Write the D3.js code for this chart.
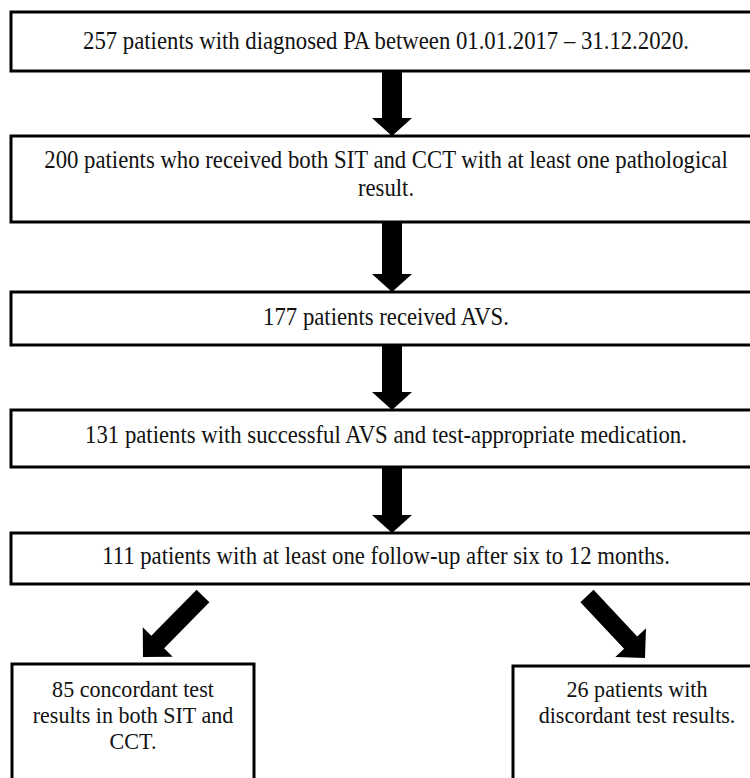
<!DOCTYPE html>
<style>
body { margin: 0; background: #fff; }
</style>
<svg width="750" height="778"></svg>
<script src="https://cdn.jsdelivr.net/npm/d3@7"></script>
<script>

// flow steps, top to bottom
var steps = [
  ["257 patients with diagnosed PA between 01.01.2017 \u2013 31.12.2020."],
  ["200 patients who received both SIT and CCT with at least one pathological", "result."],
  ["177 patients received AVS."],
  ["131 patients with successful AVS and test-appropriate medication."],
  ["111 patients with at least one follow-up after six to 12 months."]
];

// split at the end
var outcomes = [
  ["85 concordant test", "results in both SIT and", "CCT."],
  ["26 patients with", "discordant test results."]
];

var svg = d3.select("svg"),
    serif = "'Liberation Serif'";

// box geometry: top, bottom, first baseline
var rows = [[12, 71, 49], [136, 222, 168], [292, 345, 325], [410, 467, 443], [533, 584, 564]],
    boxLeft = 11, boxRight = 760, midX = 386, arrowX = 392,
    lineH = 28;

var g = svg.append("g");

var step = g.selectAll("g.step")
  .data(steps)
  .enter().append("g")
    .attr("class", "step");

step.append("rect")
    .attr("x", boxLeft)
    .attr("y", function(d, i) { return rows[i][0]; })
    .attr("width", boxRight - boxLeft)
    .attr("height", function(d, i) { return rows[i][1] - rows[i][0]; })
    .attr("fill", "none")
    .attr("stroke", "#000")
    .attr("stroke-width", 3);

step.each(function(lines, i) {
  d3.select(this).selectAll("text")
    .data(lines)
    .enter().append("text")
      .attr("transform", function(d, j) {
        return "translate(" + midX + "," + (rows[i][2] + j * lineH) + ") scale(0.875,1)";
      })
      .attr("text-anchor", "middle")
      .style("font-family", serif)
      .style("font-size", "26px")
      .attr("fill", "#111")
      .text(function(d) { return d; });
});

// vertical arrows between the steps
function downArrow(y0, y1) {
  var sw = 10, hw = 20, hh = 18;
  return "M" + (arrowX - sw) + "," + y0 +
    "L" + (arrowX + sw) + "," + y0 +
    "L" + (arrowX + sw) + "," + (y1 - hh) +
    "L" + (arrowX + hw) + "," + (y1 - hh) +
    "L" + arrowX + "," + y1 +
    "L" + (arrowX - hw) + "," + (y1 - hh) +
    "L" + (arrowX - sw) + "," + (y1 - hh) + "Z";
}

g.selectAll("path.down")
  .data(d3.range(steps.length - 1))
  .enter().append("path")
    .attr("class", "down")
    .attr("d", function(i) { return downArrow(rows[i][1] + 1, rows[i + 1][0]); })
    .attr("fill", "#000");

// diagonal arrows to the outcome boxes
function diagArrow(x0, y0, x1, y1) {
  var len = Math.hypot(x1 - x0, y1 - y0),
      ux = (x1 - x0) / len, uy = (y1 - y0) / len,
      px = -uy, py = ux,
      sw = 9, hw = 21, hh = 21,
      bx = x1 - ux * hh, by = y1 - uy * hh;
  var pts = [
    [x0 + px * sw, y0 + py * sw],
    [bx + px * sw, by + py * sw],
    [bx + px * hw, by + py * hw],
    [x1, y1],
    [bx - px * hw, by - py * hw],
    [bx - px * sw, by - py * sw],
    [x0 - px * sw, y0 - py * sw]
  ];
  return "M" + pts.join("L") + "Z";
}

var outBoxes = [
  {x0: 12, x1: 254, top: 664, base: 697, from: [203, 596], tip: [143, 657]},
  {x0: 513, x1: 761, top: 666, base: 697, from: [587, 596], tip: [645, 658]}
];

g.selectAll("path.diag")
  .data(outBoxes)
  .enter().append("path")
    .attr("class", "diag")
    .attr("d", function(b) { return diagArrow(b.from[0], b.from[1], b.tip[0], b.tip[1]); })
    .attr("fill", "#000");

var out = g.selectAll("g.out")
  .data(outcomes)
  .enter().append("g")
    .attr("class", "out");

out.append("rect")
    .attr("x", function(d, i) { return outBoxes[i].x0; })
    .attr("y", function(d, i) { return outBoxes[i].top; })
    .attr("width", function(d, i) { return outBoxes[i].x1 - outBoxes[i].x0; })
    .attr("height", 200)
    .attr("fill", "none")
    .attr("stroke", "#000")
    .attr("stroke-width", 3);

out.each(function(lines, i) {
  var b = outBoxes[i];
  d3.select(this).selectAll("text")
    .data(lines)
    .enter().append("text")
      .attr("transform", function(d, j) {
        return "translate(" + ((b.x0 + b.x1) / 2) + "," + (b.base + j * 26) + ") scale(0.92,1)";
      })
      .attr("text-anchor", "middle")
      .style("font-family", serif)
      .style("font-size", "24px")
      .attr("fill", "#111")
      .text(function(d) { return d; });
});

</script>
